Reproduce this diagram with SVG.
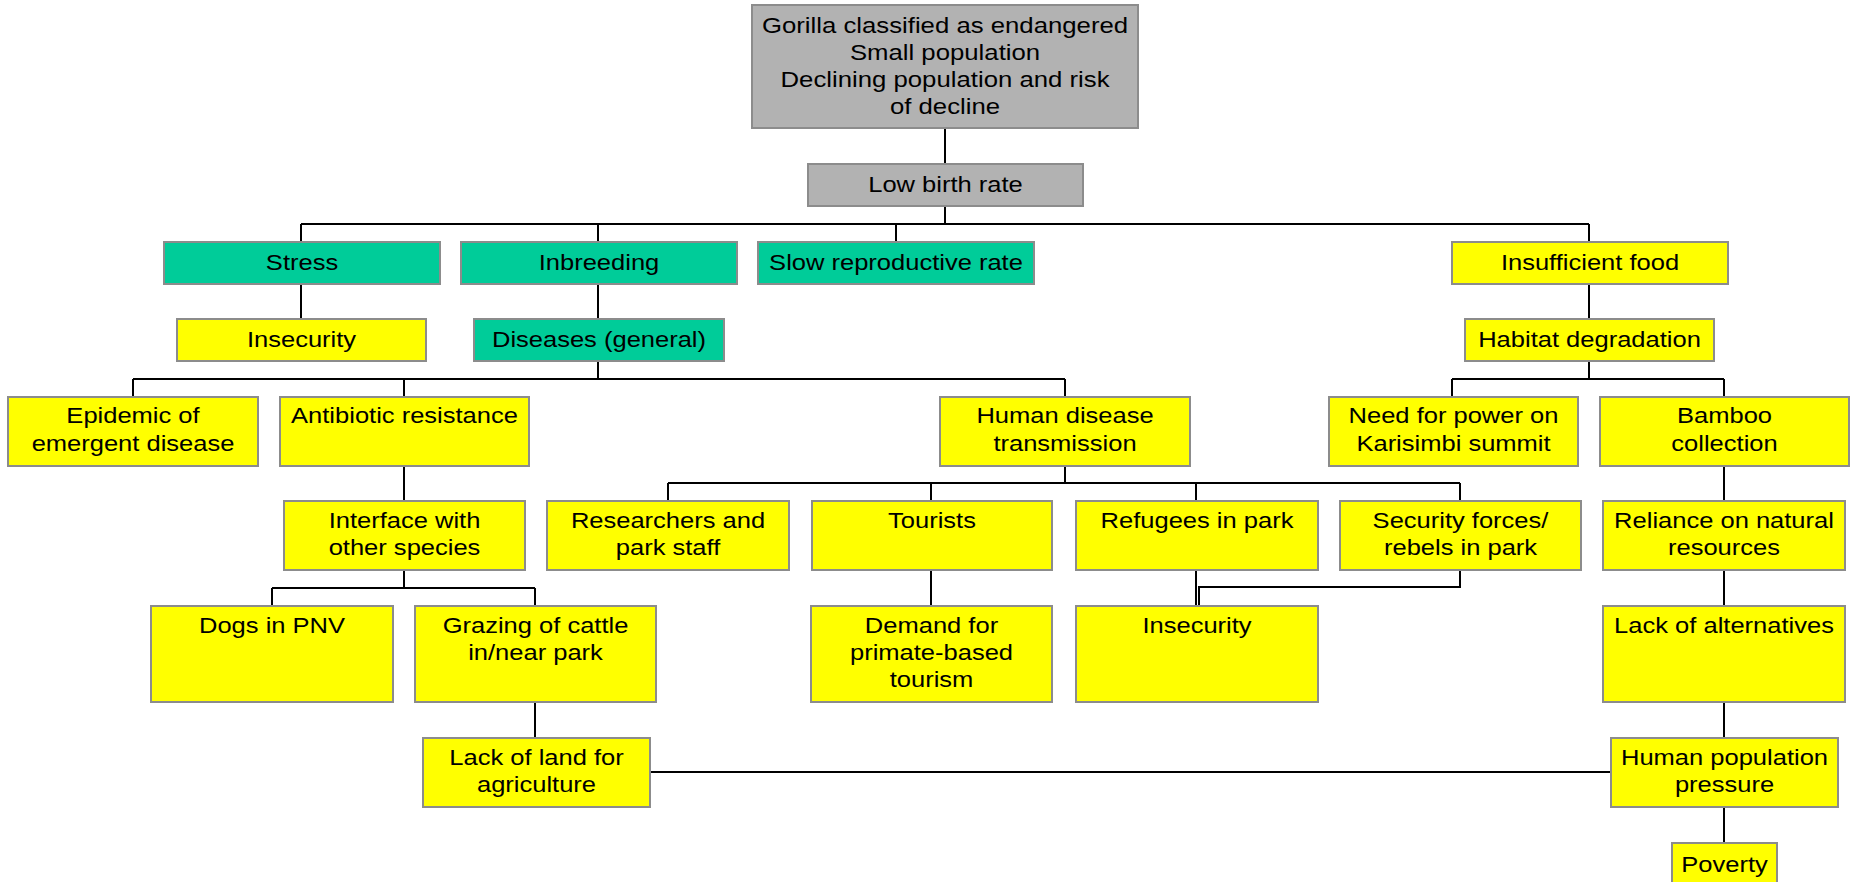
<svg xmlns="http://www.w3.org/2000/svg" width="1858" height="882" viewBox="0 0 1858 882">
<style>
rect{stroke:#8c8c8c;stroke-width:2}
.g{fill:#b2b2b2}.tl{fill:#00cc99}.y{fill:#ffff00}
text{font-family:"Liberation Sans",Arial,sans-serif;font-size:22px;fill:#000;text-anchor:middle}
.c path{fill:none;stroke:#000;stroke-width:2}
</style>
<rect width="1858" height="882" fill="#fff" style="stroke:none"/>
<g class="c" id="connectors">
<path d="M945 128V164"/>
<path d="M945 206V224M301 224H1589M301 224V242M598 224V242M896 224V242M1589 224V242"/>
<path d="M301 284V319M598 284V319M1589 284V319"/>
<path d="M598 361V379M133 379H1065M133 379V397M404 379V397M1065 379V397"/>
<path d="M1589 361V379M1452 379H1724M1452 379V397M1724 379V397"/>
<path d="M404 466V501"/>
<path d="M1065 466V483M668 483H1460M668 483V501M931 483V501M1196 483V501M1460 483V501"/>
<path d="M1724 466V501"/>
<path d="M404 570V588M272 588H535M272 588V606M535 588V606"/>
<path d="M931 570V606M1196 570V606"/>
<path d="M1460 570V587H1199V606"/>
<path d="M1724 570V606"/>
<path d="M535 702V738M1724 702V738"/>
<path d="M650 772H1611"/>
<path d="M1724 807V843"/>
</g>
<g id="n-top"><rect class="g" x="752" y="5" width="386" height="123"/>
<text transform="translate(945 0) scale(1.17 1)" y="33"><tspan x="0">Gorilla classified as endangered</tspan><tspan x="0" dy="27">Small population</tspan><tspan x="0" dy="27">Declining population and risk</tspan><tspan x="0" dy="27">of decline</tspan></text></g>
<g id="n-lowbirth"><rect class="g" x="808" y="164" width="275" height="42"/>
<text transform="translate(945.5 0) scale(1.16 1)" y="192">Low birth rate</text></g>
<g id="n-stress"><rect class="tl" x="164" y="242" width="276" height="42"/>
<text transform="translate(302 0) scale(1.16 1)" y="270">Stress</text></g>
<g id="n-inbreeding"><rect class="tl" x="461" y="242" width="276" height="42"/>
<text transform="translate(599 0) scale(1.16 1)" y="270">Inbreeding</text></g>
<g id="n-slow"><rect class="tl" x="758" y="242" width="276" height="42"/>
<text transform="translate(896 0) scale(1.16 1)" y="270">Slow reproductive rate</text></g>
<g id="n-food"><rect class="y" x="1452" y="242" width="276" height="42"/>
<text transform="translate(1590 0) scale(1.16 1)" y="270">Insufficient food</text></g>
<g id="n-insecurity1"><rect class="y" x="177" y="319" width="249" height="42"/>
<text transform="translate(301.5 0) scale(1.16 1)" y="347">Insecurity</text></g>
<g id="n-diseases"><rect class="tl" x="474" y="319" width="250" height="42"/>
<text transform="translate(599 0) scale(1.16 1)" y="347">Diseases (general)</text></g>
<g id="n-habitat"><rect class="y" x="1465" y="319" width="249" height="42"/>
<text transform="translate(1589.5 0) scale(1.16 1)" y="347">Habitat degradation</text></g>
<g id="n-epidemic"><rect class="y" x="8" y="397" width="250" height="69"/>
<text transform="translate(133 0) scale(1.16 1)" y="423"><tspan x="0">Epidemic of</tspan><tspan x="0" dy="28">emergent disease</tspan></text></g>
<g id="n-antibiotic"><rect class="y" x="280" y="397" width="249" height="69"/>
<text transform="translate(404.5 0) scale(1.16 1)" y="423">Antibiotic resistance</text></g>
<g id="n-human"><rect class="y" x="940" y="397" width="250" height="69"/>
<text transform="translate(1065 0) scale(1.16 1)" y="423"><tspan x="0">Human disease</tspan><tspan x="0" dy="28">transmission</tspan></text></g>
<g id="n-power"><rect class="y" x="1329" y="397" width="249" height="69"/>
<text transform="translate(1453.5 0) scale(1.16 1)" y="423"><tspan x="0">Need for power on</tspan><tspan x="0" dy="28">Karisimbi summit</tspan></text></g>
<g id="n-bamboo"><rect class="y" x="1600" y="397" width="249" height="69"/>
<text transform="translate(1724.5 0) scale(1.16 1)" y="423"><tspan x="0">Bamboo</tspan><tspan x="0" dy="28">collection</tspan></text></g>
<g id="n-interface"><rect class="y" x="284" y="501" width="241" height="69"/>
<text transform="translate(404.5 0) scale(1.16 1)" y="528"><tspan x="0">Interface with</tspan><tspan x="0" dy="27">other species</tspan></text></g>
<g id="n-researchers"><rect class="y" x="547" y="501" width="242" height="69"/>
<text transform="translate(668 0) scale(1.16 1)" y="528"><tspan x="0">Researchers and</tspan><tspan x="0" dy="27">park staff</tspan></text></g>
<g id="n-tourists"><rect class="y" x="812" y="501" width="240" height="69"/>
<text transform="translate(932 0) scale(1.16 1)" y="528">Tourists</text></g>
<g id="n-refugees"><rect class="y" x="1076" y="501" width="242" height="69"/>
<text transform="translate(1197 0) scale(1.16 1)" y="528">Refugees in park</text></g>
<g id="n-security"><rect class="y" x="1340" y="501" width="241" height="69"/>
<text transform="translate(1460.5 0) scale(1.16 1)" y="528"><tspan x="0">Security forces/</tspan><tspan x="0" dy="27">rebels in park</tspan></text></g>
<g id="n-reliance"><rect class="y" x="1603" y="501" width="242" height="69"/>
<text transform="translate(1724 0) scale(1.16 1)" y="528"><tspan x="0">Reliance on natural</tspan><tspan x="0" dy="27">resources</tspan></text></g>
<g id="n-dogs"><rect class="y" x="151" y="606" width="242" height="96"/>
<text transform="translate(272 0) scale(1.16 1)" y="633">Dogs in PNV</text></g>
<g id="n-grazing"><rect class="y" x="415" y="606" width="241" height="96"/>
<text transform="translate(535.5 0) scale(1.16 1)" y="633"><tspan x="0">Grazing of cattle</tspan><tspan x="0" dy="27">in/near park</tspan></text></g>
<g id="n-demand"><rect class="y" x="811" y="606" width="241" height="96"/>
<text transform="translate(931.5 0) scale(1.16 1)" y="633"><tspan x="0">Demand for</tspan><tspan x="0" dy="27">primate-based</tspan><tspan x="0" dy="27">tourism</tspan></text></g>
<g id="n-insecurity2"><rect class="y" x="1076" y="606" width="242" height="96"/>
<text transform="translate(1197 0) scale(1.16 1)" y="633">Insecurity</text></g>
<g id="n-alternatives"><rect class="y" x="1603" y="606" width="242" height="96"/>
<text transform="translate(1724 0) scale(1.16 1)" y="633">Lack of alternatives</text></g>
<g id="n-land"><rect class="y" x="423" y="738" width="227" height="69"/>
<text transform="translate(536.5 0) scale(1.16 1)" y="765"><tspan x="0">Lack of land for</tspan><tspan x="0" dy="27">agriculture</tspan></text></g>
<g id="n-humanpop"><rect class="y" x="1611" y="738" width="227" height="69"/>
<text transform="translate(1724.5 0) scale(1.16 1)" y="765"><tspan x="0">Human population</tspan><tspan x="0" dy="27">pressure</tspan></text></g>
<g id="n-poverty"><rect class="y" x="1672" y="843" width="105" height="50"/>
<text transform="translate(1724.5 0) scale(1.16 1)" y="872">Poverty</text></g>
</svg>
